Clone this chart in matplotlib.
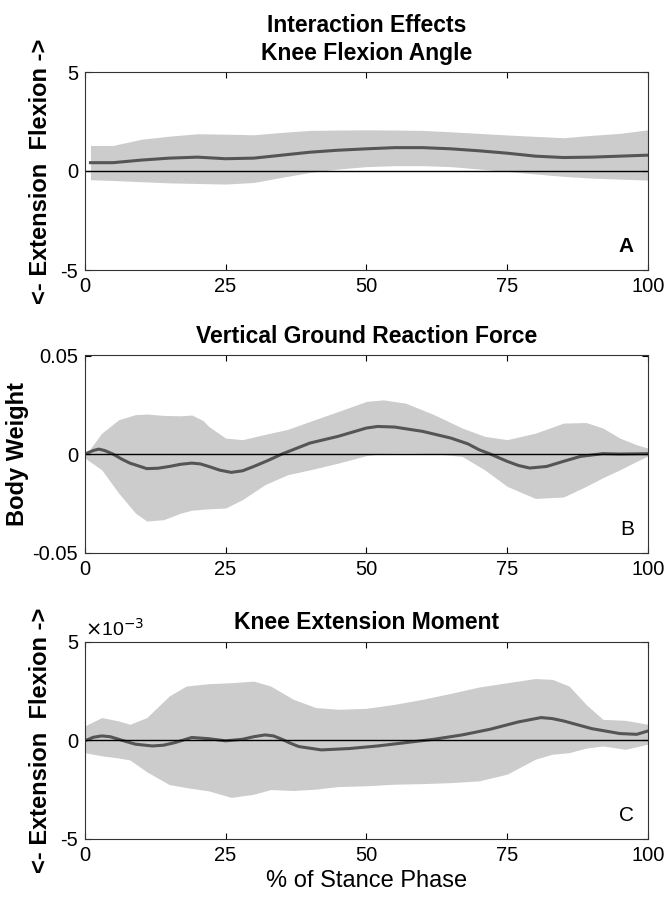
import matplotlib
matplotlib.use("Agg")
import matplotlib.pyplot as plt

plt.rcParams['font.family'] = ['Liberation Sans', 'DejaVu Sans']

# Panel A: knee flexion angle (interaction effect)
angle_x = [1, 5, 10, 15, 20, 25, 30, 35, 40, 45, 50, 55, 60, 65, 70, 75, 80, 85, 90, 95, 100]
angle_mean = [0.42, 0.42, 0.55, 0.65, 0.70, 0.62, 0.65, 0.80, 0.95, 1.05, 1.12, 1.18, 1.18,
              1.12, 1.02, 0.90, 0.75, 0.68, 0.70, 0.75, 0.80]
angle_upper = [1.29, 1.29, 1.60, 1.76, 1.88, 1.86, 1.83, 1.95, 2.05, 2.07, 2.08, 2.07, 2.05,
               1.98, 1.90, 1.82, 1.75, 1.68, 1.80, 1.90, 2.08]
angle_lower = [-0.44, -0.48, -0.54, -0.60, -0.63, -0.66, -0.58, -0.32, -0.07, 0.10, 0.22,
               0.27, 0.27, 0.22, 0.10, -0.02, -0.15, -0.27, -0.36, -0.41, -0.46]

# Panel B: vertical ground reaction force (body weight)
grf_x = [0, 1.5, 2.5, 3.5, 5, 6.5, 8, 11, 13, 15, 17, 19, 20.5, 22, 24, 26, 28, 30, 32.5, 35,
         40, 45, 50, 52, 55, 60, 65, 68, 70, 72, 75, 77, 79, 82, 85, 88, 92, 95, 100]
grf_mean = [0.0, 0.0018, 0.0025, 0.0018, 0.0, -0.0025, -0.0046, -0.0074, -0.0072, -0.0063,
            -0.0052, -0.0046, -0.0050, -0.0063, -0.0082, -0.0093, -0.0085, -0.0063, -0.0033,
            0.0, 0.0056, 0.009, 0.0132, 0.014, 0.0137, 0.0115, 0.0081, 0.0052, 0.0022, 0.0,
            -0.0037, -0.0058, -0.0071, -0.0063, -0.0037, -0.0012, 0.0002, 0.0, 0.0002]
grf_bx = [0, 3, 6, 9, 11, 14, 17, 19, 21, 22, 25, 28, 32, 36, 40, 45, 50, 53, 57, 62, 67, 71,
          75, 80, 85, 89, 92, 95, 98, 100]
grf_upper = [-0.001, 0.0106, 0.0174, 0.0200, 0.0203, 0.0196, 0.0194, 0.0198, 0.0170, 0.014,
             0.0081, 0.0073, 0.0100, 0.0125, 0.0166, 0.0216, 0.0267, 0.0275, 0.0258, 0.0200,
             0.0132, 0.0090, 0.0073, 0.0106, 0.0157, 0.0160, 0.0132, 0.0081, 0.0047, 0.003]
grf_lower = [-0.002, -0.008, -0.0198, -0.0300, -0.0340, -0.0333, -0.0300, -0.0285, -0.0280,
             -0.0278, -0.0274, -0.0231, -0.0155, -0.0105, -0.008, -0.0046, -0.0008, 0.0003,
             0.0005, 0.0002, -0.0012, -0.0080, -0.0164, -0.0225, -0.0218, -0.0164, -0.0120,
             -0.0080, -0.0037, -0.001]

# Panel C: knee extension moment (units of 1e-3)
mom_x = [0, 1.5, 3, 4.5, 6, 7.5, 9, 12, 14, 16, 19, 22, 25, 28, 30, 32, 33.5, 35, 36.5, 38,
         42, 47, 52, 57, 62, 67, 72, 77, 81, 83, 85, 90, 95, 98, 100]
mom_mean = [-0.03, 0.15, 0.22, 0.18, 0.05, -0.08, -0.20, -0.29, -0.25, -0.12, 0.14, 0.08,
            -0.03, 0.05, 0.18, 0.27, 0.22, 0.05, -0.15, -0.32, -0.49, -0.42, -0.29, -0.12,
            0.05, 0.27, 0.56, 0.93, 1.15, 1.10, 0.98, 0.59, 0.34, 0.30, 0.47]
mom_bx = [0, 3, 6, 8, 11, 15, 18, 22, 26, 30, 33, 37, 41, 45, 50, 55, 60, 65, 70, 75, 80, 83,
          86, 89, 92, 96, 100]
mom_upper = [0.73, 1.15, 0.98, 0.81, 1.15, 2.25, 2.75, 2.87, 2.92, 3.00, 2.75, 2.08, 1.66,
             1.57, 1.62, 1.82, 2.08, 2.38, 2.70, 2.92, 3.13, 3.09, 2.75, 1.82, 1.06, 1.01, 0.81]
mom_lower = [-0.63, -0.79, -0.90, -1.00, -1.60, -2.25, -2.40, -2.57, -2.90, -2.74, -2.50,
             -2.55, -2.48, -2.35, -2.31, -2.23, -2.20, -2.15, -2.06, -1.72, -0.96, -0.71,
             -0.63, -0.40, -0.29, -0.46, -0.20]

panels = [
    dict(x=angle_x, mean=angle_mean, bx=angle_x, up=angle_upper, lo=angle_lower,
         ylim=(-5, 5), yticks=[-5, 0, 5], ytl=['-5', '0', '5'],
         title='Interaction Effects\nKnee Flexion Angle', ylabel='<- Extension  Flexion ->',
         letter='A', pos=[0.127, 0.700, 0.843, 0.220]),
    dict(x=grf_x, mean=grf_mean, bx=grf_bx, up=grf_upper, lo=grf_lower,
         ylim=(-0.05, 0.05), yticks=[-0.05, 0, 0.05], ytl=['-0.05', '0', '0.05'],
         title='Vertical Ground Reaction Force', ylabel='Body Weight',
         letter='B', pos=[0.127, 0.386, 0.843, 0.219]),
    dict(x=mom_x, mean=mom_mean, bx=mom_bx, up=mom_upper, lo=mom_lower,
         ylim=(-5, 5), yticks=[-5, 0, 5], ytl=['-5', '0', '5'],
         title='Knee Extension Moment', ylabel='<- Extension  Flexion ->',
         letter='C', pos=[0.127, 0.068, 0.843, 0.219]),
]

fig = plt.figure(figsize=(6.68, 9), dpi=100)

for i, p in enumerate(panels):
    ax = fig.add_axes(p['pos'])
    ax.fill_between(p['bx'], p['lo'], p['up'], color='#cccccc', linewidth=0)
    ax.plot(p['x'], p['mean'], color='#555555', linewidth=2.2)
    ax.axhline(0, color='black', linewidth=1)
    ax.set_xlim(0, 100)
    ax.set_ylim(*p['ylim'])
    ax.set_xticks([0, 25, 50, 75, 100])
    ax.set_yticks(p['yticks'])
    ax.set_yticklabels(p['ytl'])
    ax.tick_params(direction='in', top=True, right=True, length=4, labelsize=14.5,
                   width=0.8, pad=5)
    for s in ax.spines.values():
        s.set_linewidth(0.8)
        s.set_color('#333333')
    ax.set_title(p['title'], fontsize=16.5, fontweight='bold', pad=9, linespacing=1.25)
    ax.set_ylabel(p['ylabel'], fontsize=17, fontweight='bold',
                  labelpad=6 if i != 1 else 2)
    ax.text(0.975, 0.07, p['letter'], transform=ax.transAxes, ha='right', va='bottom',
            fontsize=15, fontweight='bold' if i == 0 else 'normal')
    if i == 2:
        ax.text(0.0, 1.01, r'$\times$10$^{-3}$', transform=ax.transAxes, ha='left',
                va='bottom', fontsize=14)
        ax.set_xlabel('% of Stance Phase', fontsize=17, labelpad=4)

fig.savefig('out.png', dpi=100)
